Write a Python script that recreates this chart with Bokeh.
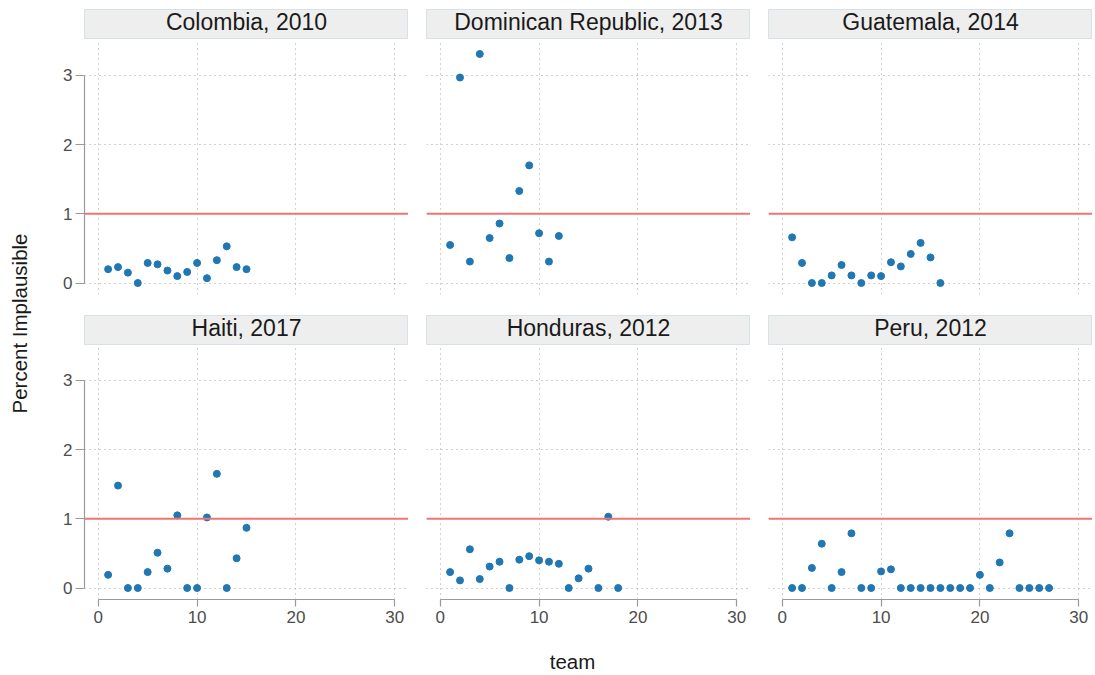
import math

from bokeh.plotting import figure
from bokeh.layouts import row, column
from bokeh.models import Range1d, Grid, FixedTicker, LinearAxis, Span, Label
from bokeh.embed import file_html
from bokeh.resources import INLINE

# ---- data -------------------------------------------------------------
panel_titles = [
    "Colombia, 2010", "Dominican Republic, 2013", "Guatemala, 2014",
    "Haiti, 2017", "Honduras, 2012", "Peru, 2012",
]

colombia_team = [1, 2, 3, 4, 5, 6, 7, 8, 9, 10, 11, 12, 13, 14, 15]
colombia_pct = [0.20, 0.23, 0.15, 0.00, 0.29, 0.27, 0.18, 0.10, 0.16, 0.29,
                0.07, 0.33, 0.53, 0.23, 0.20]

dominican_team = [1, 2, 3, 4, 5, 6, 7, 8, 9, 10, 11, 12]
dominican_pct = [0.55, 2.97, 0.31, 3.31, 0.65, 0.86, 0.36, 1.33, 1.70, 0.72,
                 0.31, 0.68]

guatemala_team = [1, 2, 3, 4, 5, 6, 7, 8, 9, 10, 11, 12, 13, 14, 15, 16]
guatemala_pct = [0.66, 0.29, 0.00, 0.00, 0.11, 0.26, 0.11, 0.00, 0.11, 0.10,
                 0.30, 0.24, 0.42, 0.58, 0.37, 0.00]

haiti_team = [1, 2, 3, 4, 5, 6, 7, 8, 9, 10, 11, 12, 13, 14, 15]
haiti_pct = [0.19, 1.48, 0.00, 0.00, 0.23, 0.51, 0.28, 1.05, 0.00, 0.00,
             1.02, 1.65, 0.00, 0.43, 0.87]

honduras_team = [1, 2, 3, 4, 5, 6, 7, 8, 9, 10, 11, 12, 13, 14, 15, 16, 17, 18]
honduras_pct = [0.23, 0.11, 0.56, 0.13, 0.31, 0.38, 0.00, 0.41, 0.46, 0.40,
                0.38, 0.35, 0.00, 0.14, 0.28, 0.00, 1.03, 0.00]

peru_team = [1, 2, 3, 4, 5, 6, 7, 8, 9, 10, 11, 12, 13, 14, 15, 16, 17, 18,
             19, 20, 21, 22, 23, 24, 25, 26, 27]
peru_pct = [0.00, 0.00, 0.29, 0.64, 0.00, 0.23, 0.79, 0.00, 0.00, 0.24,
            0.27, 0.00, 0.00, 0.00, 0.00, 0.00, 0.00, 0.00, 0.00, 0.19,
            0.00, 0.37, 0.79, 0.00, 0.00, 0.00, 0.00]

x_ticks = [0, 10, 20, 30]
y_ticks = [0, 1, 2, 3]
threshold = 1

# ---- styling ----------------------------------------------------------
FONT = "Liberation Sans"
POINT = "#1f77b4"
GRID = "#a3a3a3"
AXIS = "#9a9a9a"
TICK_TEXT = "#4d4d4d"
STRIP_FILL = "#eeeeee"
STRIP_LINE = "#d6e1e8"
REF_LINE = "#f07474"

X_RANGE = (-1.39, 31.39)
Y_RANGE = (-0.166, 3.476)

COL_WIDTHS = [366, 342, 342]
COL_LEFT = [42, 18, 18]


def style_axis(ax):
    ax.axis_line_color = AXIS
    ax.axis_line_width = 1.2
    ax.major_tick_line_color = AXIS
    ax.major_tick_line_width = 1.2
    ax.major_tick_in = 0
    ax.minor_tick_in = 0
    ax.minor_tick_out = 0
    ax.major_label_text_font = FONT
    ax.major_label_text_font_size = "17px"
    ax.major_label_text_color = TICK_TEXT


def strip(title, col, height, top):
    s = figure(width=COL_WIDTHS[col], height=height,
               x_range=Range1d(0, 1), y_range=Range1d(0, 1),
               x_axis_location=None, y_axis_location=None,
               toolbar_location=None, output_backend="svg",
               min_border_left=COL_LEFT[col], min_border_right=0,
               min_border_top=top, min_border_bottom=0,
               background_fill_color=STRIP_FILL,
               outline_line_color=STRIP_LINE, outline_line_width=1)
    s.center = []
    s.add_layout(Label(x=0.5, y=0.6, text=title, text_align="center",
                       text_baseline="middle", text_font=FONT,
                       text_font_size="23px", text_color="#1a1a1a"))
    return s


def panel(teams, pct, col, height, top, bottom, show_x):
    p = figure(width=COL_WIDTHS[col], height=height,
               x_range=Range1d(*X_RANGE), y_range=Range1d(*Y_RANGE),
               x_axis_location=None, y_axis_location=None,
               toolbar_location=None, output_backend="svg",
               min_border_left=COL_LEFT[col], min_border_right=0,
               min_border_top=top, min_border_bottom=bottom,
               outline_line_color=None)
    p.center = []
    for dim, ticks in ((0, x_ticks), (1, y_ticks)):
        p.add_layout(Grid(dimension=dim, ticker=FixedTicker(ticks=ticks),
                          grid_line_color=GRID, grid_line_width=1,
                          grid_line_dash="1 4"), "center")

    if col == 0:
        ya = LinearAxis(ticker=FixedTicker(ticks=y_ticks),
                        bounds=(min(y_ticks), max(y_ticks)))
        style_axis(ya)
        ya.major_tick_out = 9
        ya.major_label_standoff = 3
        p.add_layout(ya, "left")
    if show_x:
        xa = LinearAxis(ticker=FixedTicker(ticks=x_ticks),
                        bounds=(min(x_ticks), max(x_ticks)))
        style_axis(xa)
        xa.major_tick_out = 7
        xa.major_label_standoff = 4
        p.add_layout(xa, "below")

    p.add_layout(Span(location=threshold, dimension="width",
                      line_color=REF_LINE, line_width=2))
    p.scatter(teams, pct, size=7, fill_color=POINT, line_color=POINT)
    return p


series = [
    (colombia_team, colombia_pct), (dominican_team, dominican_pct),
    (guatemala_team, guatemala_pct), (haiti_team, haiti_pct),
    (honduras_team, honduras_pct), (peru_team, peru_pct),
]

strips_top = row(*[strip(panel_titles[c], c, 39, 9) for c in range(3)])
panels_top = row(*[panel(*series[c], c, 276, 3, 21, False) for c in range(3)])
strips_bot = row(*[strip(panel_titles[3 + c], c, 30, 0) for c in range(3)])
panels_bot = row(*[panel(*series[3 + c], c, 294, 2, 40, True) for c in range(3)])

# x-axis title under the panel grid
total_w = sum(COL_WIDTHS)
xt = figure(width=total_w, height=36, x_range=Range1d(0, total_w),
            y_range=Range1d(36, 0), x_axis_location=None, y_axis_location=None,
            toolbar_location=None, output_backend="svg", min_border=0,
            outline_line_color=None)
xt.center = []
xt.add_layout(Label(x=530, y=22, text="team", text_align="center",
                    text_baseline="middle", text_font=FONT,
                    text_font_size="20.5px", text_color="#1a1a1a"))

# y-axis title spanning both rows
yt = figure(width=42, height=675, x_range=Range1d(0, 42),
            y_range=Range1d(675, 0), x_axis_location=None, y_axis_location=None,
            toolbar_location=None, output_backend="svg", min_border=0,
            outline_line_color=None)
yt.center = []
yt.add_layout(Label(x=19, y=323, text="Percent Implausible", angle=math.pi / 2,
                    text_align="center", text_baseline="middle", text_font=FONT,
                    text_font_size="20.5px", text_color="#1a1a1a"))

layout = row(yt, column(strips_top, panels_top, strips_bot, panels_bot, xt))

open("out.html", "w").write(file_html(layout, INLINE))
